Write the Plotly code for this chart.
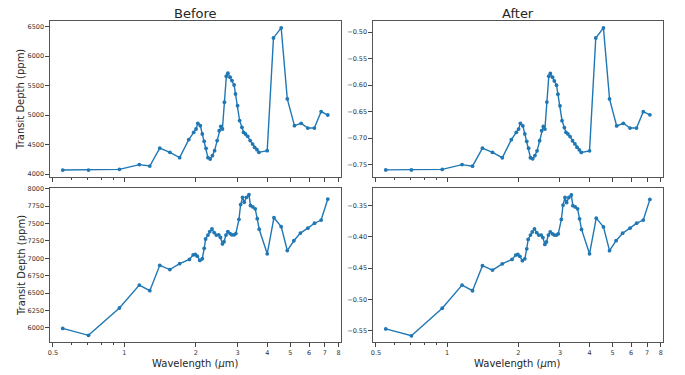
import plotly.graph_objects as go

# ---------------- data ----------------
wl_top = [0.55, 0.706, 0.953, 1.156, 1.28, 1.41, 1.555, 1.71, 1.868, 1.96,
          2.005, 2.04, 2.09, 2.13, 2.17, 2.21, 2.25, 2.30, 2.35, 2.40,
          2.46, 2.51, 2.55, 2.59, 2.64, 2.69, 2.73, 2.79, 2.84, 2.90,
          2.94, 3.00, 3.06, 3.13, 3.18, 3.24, 3.31, 3.39, 3.47, 3.54,
          3.62, 3.69, 4.00, 4.25, 4.58, 4.86, 5.21, 5.56, 5.93, 6.32,
          6.75, 7.20]
before_top = [4068, 4068, 4080, 4160, 4136, 4441, 4368, 4278, 4584, 4708,
              4764, 4860, 4820, 4679, 4555, 4436, 4278, 4255, 4312, 4397,
              4567, 4736, 4809, 4764, 5217, 5658, 5709, 5641, 5585, 5510,
              5357, 5160, 4906, 4792, 4708, 4679, 4640, 4567, 4509, 4453,
              4414, 4368, 4397, 6308, 6478, 5273, 4821, 4860, 4780, 4780,
              5059, 5001]
after_top = [-0.760, -0.760, -0.759, -0.750, -0.753, -0.719, -0.727, -0.737, -0.703, -0.689,
             -0.683, -0.672, -0.677, -0.692, -0.706, -0.719, -0.737, -0.739, -0.733, -0.724,
             -0.705, -0.686, -0.678, -0.683, -0.632, -0.583, -0.578, -0.585, -0.592, -0.600,
             -0.617, -0.639, -0.667, -0.680, -0.689, -0.692, -0.697, -0.705, -0.711, -0.717,
             -0.722, -0.727, -0.724, -0.511, -0.492, -0.626, -0.677, -0.672, -0.681, -0.681,
             -0.650, -0.656]

wl_bot = [0.55, 0.706, 0.953, 1.156, 1.28, 1.41, 1.555, 1.71, 1.88, 1.95,
          1.99, 2.03, 2.08, 2.13, 2.17, 2.20, 2.25, 2.29, 2.34, 2.39,
          2.44, 2.50, 2.54, 2.59, 2.63, 2.68, 2.73, 2.79, 2.84, 2.90,
          2.95, 3.04, 3.09, 3.15, 3.20, 3.27, 3.35, 3.40, 3.48, 3.56,
          3.63, 3.70, 4.00, 4.27, 4.58, 4.86, 5.18, 5.52, 5.93, 6.33,
          6.75, 7.20]
before_bot = [5990, 5891, 6284, 6614, 6533, 6898, 6837, 6922, 6983, 7050,
              7054, 7030, 6969, 6993, 7143, 7277, 7333, 7384, 7423, 7370,
              7333, 7338, 7300, 7206, 7238, 7333, 7384, 7356, 7338, 7338,
              7356, 7560, 7773, 7877, 7806, 7877, 7915, 7759, 7739, 7711,
              7569, 7418, 7064, 7583, 7455, 7111, 7252, 7362, 7433, 7504,
              7550, 7852]
after_bot = [-0.547, -0.558, -0.514, -0.477, -0.486, -0.446, -0.453, -0.443, -0.436, -0.429,
             -0.428, -0.431, -0.438, -0.435, -0.419, -0.404, -0.397, -0.392, -0.387, -0.393,
             -0.397, -0.397, -0.401, -0.412, -0.408, -0.397, -0.392, -0.395, -0.397, -0.397,
             -0.395, -0.372, -0.349, -0.337, -0.345, -0.337, -0.333, -0.350, -0.352, -0.355,
             -0.371, -0.388, -0.427, -0.370, -0.384, -0.422, -0.406, -0.394, -0.386, -0.378,
             -0.373, -0.340]

x_tickvals = [0.5, 1, 2, 3, 4, 5, 6, 7, 8]
x_ticktext = ["0.5", "1", "2", "3", "4", "5", "6", "7", "8"]
x_minor = [0.6, 0.7, 0.8, 0.9]

col_titles = ["Before", "After"]
y_title = "Transit Depth (ppm)"
x_title = "Wavelength (<i>μ</i>m)"

# ---------------- styling / layout ----------------
W, H = 685, 375
BLUE = "#1f77b4"
FONT = "DejaVu Sans"
TXT = "#262626"

def px_x(p):
    return p / W

def px_y(p):
    return 1 - p / H

xdom = [[px_x(48), px_x(340)], [px_x(372), px_x(663)]]
ydom = [[px_y(176), px_y(18)], [px_y(343), px_y(187)]]

panels = [
    # (row, col, x, y, yrange, tickvals, fmt)
    (0, 0, wl_top, before_top, [3948, 6598], [4000, 4500, 5000, 5500, 6000, 6500], None),
    (0, 1, wl_top, after_top, [-0.7736, -0.4786], [-0.75, -0.70, -0.65, -0.60, -0.55, -0.50], ".2f"),
    (1, 0, wl_bot, before_bot, [5790, 8011], [6000, 6250, 6500, 6750, 7000, 7250, 7500, 7750, 8000], None),
    (1, 1, wl_bot, after_bot, [-0.5685, -0.3218], [-0.55, -0.50, -0.45, -0.40, -0.35], ".2f"),
]

fig = go.Figure()
layout = dict(
    width=W, height=H,
    margin=dict(l=0, r=0, t=0, b=0),
    paper_bgcolor="white", plot_bgcolor="white",
    showlegend=False,
    font=dict(family=FONT, color=TXT),
)

for i, (r, c, xs, ys, yr, ytv, fmt) in enumerate(panels):
    n = "" if i == 0 else str(i + 1)
    fig.add_trace(go.Scatter(
        x=xs, y=ys, mode="lines+markers",
        line=dict(color=BLUE, width=1.4),
        marker=dict(color=BLUE, size=3.8),
        xaxis="x" + n, yaxis="y" + n, hoverinfo="skip",
    ))
    common = dict(showline=True, mirror=True, linecolor="#555", linewidth=1,
                  showgrid=False, zeroline=False, ticks="outside",
                  ticklen=3.5, tickwidth=0.8, tickcolor="#444",
                  tickfont=dict(size=6.5, family=FONT, color="#333"))
    layout["xaxis" + n] = dict(
        domain=xdom[c], anchor="y" + n, type="log", range=[-0.314, 0.913],
        tickmode="array", tickvals=x_tickvals, ticktext=x_ticktext,
        showticklabels=(r == 1),
        minor=dict(tickmode="array", tickvals=x_minor, ticks="outside",
                   ticklen=2, tickcolor="#444", showgrid=False),
        **common)
    yax = dict(domain=ydom[r], anchor="x" + n, range=yr,
               tickmode="array", tickvals=ytv, **common)
    if fmt:
        yax["tickformat"] = fmt
    layout["yaxis" + n] = yax

ann = []
for c, t in enumerate(col_titles):
    ann.append(dict(text=t, x=(xdom[c][0] + xdom[c][1]) / 2, y=px_y(10.5),
                    xref="paper", yref="paper", showarrow=False,
                    xanchor="center", yanchor="middle",
                    font=dict(size=13, family=FONT, color=TXT)))
    ann.append(dict(text=x_title, x=(xdom[c][0] + xdom[c][1]) / 2, y=px_y(364),
                    xref="paper", yref="paper", showarrow=False,
                    xanchor="center", yanchor="middle",
                    font=dict(size=10, family=FONT, color=TXT)))
for r in range(2):
    ann.append(dict(text=y_title, x=px_x(19), y=(ydom[r][0] + ydom[r][1]) / 2,
                    xref="paper", yref="paper", showarrow=False, textangle=-90,
                    xanchor="center", yanchor="middle",
                    font=dict(size=10, family=FONT, color=TXT)))
layout["annotations"] = ann

fig.update_layout(**layout)
fig.write_html("out.html")
